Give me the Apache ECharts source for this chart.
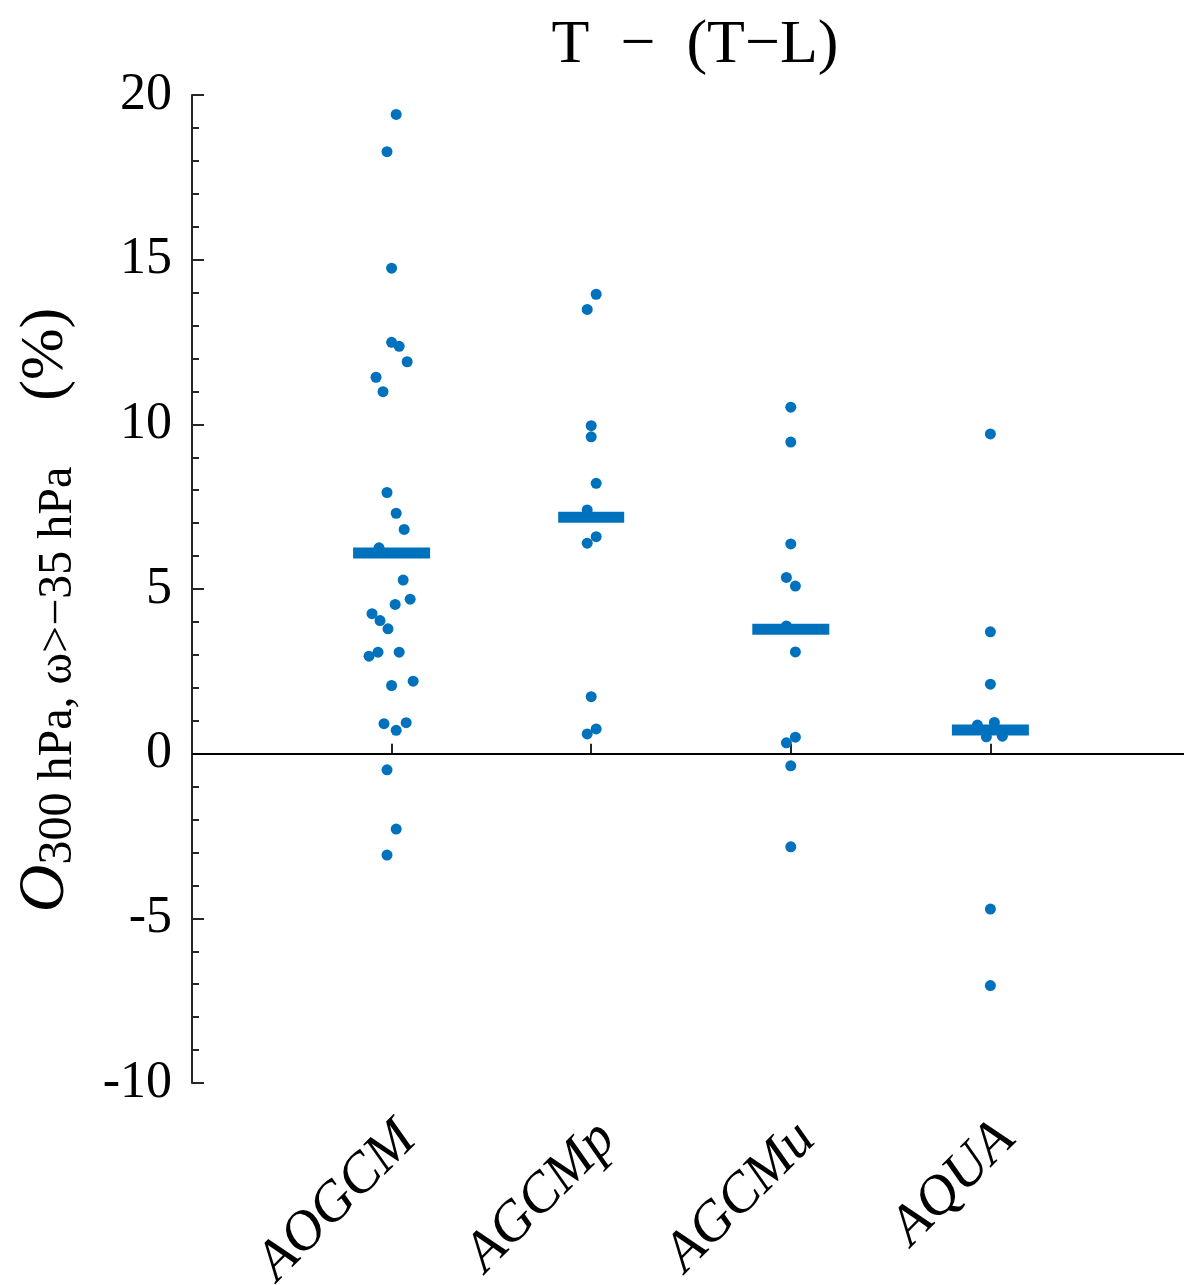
<!DOCTYPE html>
<html>
<head>
<meta charset="utf-8">
<script src="https://cdn.jsdelivr.net/npm/echarts@6/dist/echarts.min.js"></script>
<style>
  html, body { margin: 0; padding: 0; background: #fff; }
  #main { width: 1184px; height: 1285px; }
</style>
</head>
<body>
<div id="main"></div>
<script>
// categories along x
const models = ['AOGCM', 'AGCMp', 'AGCMu', 'AQUA'];

// values (%), with the horizontal jitter of each dot (axis units)
const aogcmVals = [19.41, 18.28, 14.74, 12.49, 12.37, 11.90, 11.43, 10.99, 7.93, 7.30, 6.81, 6.25, 5.27, 4.69, 4.53, 4.25, 4.04, 3.79, 2.96, 3.08, 3.08, 2.20, 2.07, 0.91, 0.94, 0.71, -0.49, -2.29, -3.08];
const aogcmJitter = [0.023, -0.023, 0, 0, 0.038, 0.078, -0.078, -0.043, -0.023, 0.023, 0.063, -0.063, 0.058, 0.093, 0.018, -0.098, -0.058, -0.018, -0.113, -0.068, 0.038, 0.108, 0, -0.038, 0.073, 0.023, -0.023, 0.023, -0.023];
const agcmpVals = [13.95, 13.49, 9.96, 9.62, 8.21, 7.40, 6.59, 6.39, 1.73, 0.75, 0.60];
const agcmpJitter = [0.025, -0.02, 0, 0, 0.025, -0.02, 0.025, -0.02, 0, 0.025, -0.02];
const agcmuVals = [10.52, 9.46, 6.37, 5.35, 5.09, 3.88, 3.09, 0.50, 0.33, -0.37, -2.83];
const agcmuJitter = [0, 0, 0, -0.022, 0.023, -0.022, 0.023, 0.023, -0.022, 0, 0];
const aquaVals = [9.71, 3.70, 2.11, 0.87, 0.95, 0.51, 0.53, -4.72, -7.04];
const aquaJitter = [0, 0, 0, -0.065, 0.02, -0.02, 0.06, 0, 0];

// mean of each group (thick bars)
const means = [6.09, 7.18, 3.78, 0.72];

const yTicks = [-10, -5, 0, 5, 10, 15, 20];

const FONT = 'Liberation Serif';
const BLUE = '#0072BD';
const AX = '#262626';

var groups = [[aogcmVals, aogcmJitter], [agcmpVals, agcmpJitter], [agcmuVals, agcmuJitter], [aquaVals, aquaJitter]];
var dots = [];
groups.forEach((g, i) => {
  g[0].forEach((v, j) => dots.push([i + 1 + g[1][j], v]));
});
var barW = [77, 66, 77, 77];
var meanData = means.map((m, i) => ({value: [i + 1, m], symbolSize: [barW[i], 11]}));

var chartDom = document.getElementById('main');
var myChart = echarts.init(chartDom);

var option = {
  animation: false,
  title: {
    text: 'T  −  (T−L)',
    left: 690, top: 10, textAlign: 'center',
    textStyle: {fontFamily: FONT, fontSize: 62, fontWeight: 'normal', color: '#000'}
  },
  grid: {left: 192, right: 0, top: 95, bottom: 202, outerBoundsMode: 'none'},
  xAxis: {
    type: 'value', min: 0, max: 4.97,
    axisLine: {lineStyle: {color: AX, width: 2}},
    axisTick: {inside: true, length: 10, customValues: [0, 1, 2, 3, 4], lineStyle: {color: AX, width: 2}},
    splitLine: {show: false},
    axisLabel: {
      customValues: [1.08, 2.08, 3.08, 4.08],
      rotate: 45, margin: 48,
      fontFamily: FONT, fontStyle: 'italic', fontSize: 56, color: '#000',
      formatter: v => models[Math.round(v) - 1] || ''
    }
  },
  yAxis: {
    type: 'value', min: -10, max: 20, interval: 5,
    axisLine: {lineStyle: {color: AX, width: 2}},
    axisTick: {inside: true, length: 12, lineStyle: {color: AX, width: 2}},
    minorTick: {show: true, splitNumber: 5, length: 7, lineStyle: {color: AX, width: 2}},
    splitLine: {show: false},
    axisLabel: {margin: 20, fontFamily: FONT, fontSize: 52, color: '#000', formatter: v => yTicks.indexOf(v) >= 0 ? String(v) : ''},
    name: '{o|O}{s|300 hPa, ω>−35 hPa}{p|(%)}',
    nameLocation: 'middle', nameRotate: 90, nameGap: 110,
    nameTextStyle: {
      fontFamily: FONT, color: '#000',
      rich: {
        o: {fontFamily: FONT, fontStyle: 'italic', fontSize: 66, lineHeight: 72, color: '#000'},
        s: {fontFamily: FONT, fontSize: 48, lineHeight: 56, verticalAlign: 'bottom', color: '#000'},
        p: {fontFamily: FONT, fontSize: 62, lineHeight: 72, color: '#000', padding: [0, 42, 0, 66]}
      }
    }
  },
  series: [
    {
      type: 'scatter', name: 'models', data: dots,
      symbol: 'circle', symbolSize: 11,
      itemStyle: {color: BLUE, opacity: 1},
      markLine: {
        silent: true, symbol: 'none', label: {show: false},
        lineStyle: {color: '#000', width: 2, type: 'solid'},
        data: [{yAxis: 0}]
      },
      z: 2
    },
    {
      type: 'scatter', name: 'mean', data: meanData,
      symbol: 'rect',
      itemStyle: {color: BLUE, opacity: 1},
      z: 3
    }
  ]
};

option && myChart.setOption(option);
</script>
</body>
</html>
